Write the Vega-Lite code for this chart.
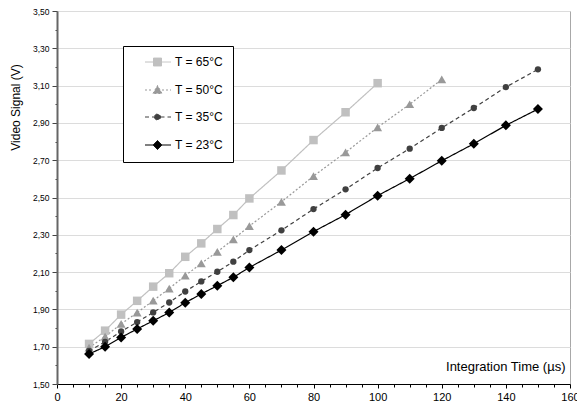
{
  "$schema": "https://vega.github.io/schema/vega-lite/v6.json",
  "width": 513,
  "height": 373,
  "autosize": {"type": "none"},
  "padding": {"left": 57, "top": 11, "right": 7, "bottom": 24},
  "config": {
    "font": "Liberation Sans",
    "view": {"stroke": "#a8a8a8", "strokeWidth": 1},
    "background": "white"
  },
  "data": {
    "values": [
      {"t": 10, "v": 1.715, "s": "T = 65°C"},
      {"t": 15, "v": 1.786, "s": "T = 65°C"},
      {"t": 20, "v": 1.872, "s": "T = 65°C"},
      {"t": 25, "v": 1.946, "s": "T = 65°C"},
      {"t": 30, "v": 2.022, "s": "T = 65°C"},
      {"t": 35, "v": 2.094, "s": "T = 65°C"},
      {"t": 40, "v": 2.182, "s": "T = 65°C"},
      {"t": 45, "v": 2.254, "s": "T = 65°C"},
      {"t": 50, "v": 2.331, "s": "T = 65°C"},
      {"t": 55, "v": 2.406, "s": "T = 65°C"},
      {"t": 60, "v": 2.495, "s": "T = 65°C"},
      {"t": 70, "v": 2.645, "s": "T = 65°C"},
      {"t": 80, "v": 2.808, "s": "T = 65°C"},
      {"t": 90, "v": 2.957, "s": "T = 65°C"},
      {"t": 100, "v": 3.113, "s": "T = 65°C"},
      {"t": 10, "v": 1.695, "s": "T = 50°C"},
      {"t": 15, "v": 1.754, "s": "T = 50°C"},
      {"t": 20, "v": 1.822, "s": "T = 50°C"},
      {"t": 25, "v": 1.883, "s": "T = 50°C"},
      {"t": 30, "v": 1.947, "s": "T = 50°C"},
      {"t": 35, "v": 2.012, "s": "T = 50°C"},
      {"t": 40, "v": 2.081, "s": "T = 50°C"},
      {"t": 45, "v": 2.147, "s": "T = 50°C"},
      {"t": 50, "v": 2.209, "s": "T = 50°C"},
      {"t": 55, "v": 2.276, "s": "T = 50°C"},
      {"t": 60, "v": 2.347, "s": "T = 50°C"},
      {"t": 70, "v": 2.477, "s": "T = 50°C"},
      {"t": 80, "v": 2.615, "s": "T = 50°C"},
      {"t": 90, "v": 2.742, "s": "T = 50°C"},
      {"t": 100, "v": 2.876, "s": "T = 50°C"},
      {"t": 110, "v": 3.0, "s": "T = 50°C"},
      {"t": 120, "v": 3.133, "s": "T = 50°C"},
      {"t": 10, "v": 1.677, "s": "T = 35°C"},
      {"t": 15, "v": 1.726, "s": "T = 35°C"},
      {"t": 20, "v": 1.782, "s": "T = 35°C"},
      {"t": 25, "v": 1.832, "s": "T = 35°C"},
      {"t": 30, "v": 1.884, "s": "T = 35°C"},
      {"t": 35, "v": 1.937, "s": "T = 35°C"},
      {"t": 40, "v": 1.996, "s": "T = 35°C"},
      {"t": 45, "v": 2.05, "s": "T = 35°C"},
      {"t": 50, "v": 2.102, "s": "T = 35°C"},
      {"t": 55, "v": 2.156, "s": "T = 35°C"},
      {"t": 60, "v": 2.218, "s": "T = 35°C"},
      {"t": 70, "v": 2.324, "s": "T = 35°C"},
      {"t": 80, "v": 2.438, "s": "T = 35°C"},
      {"t": 90, "v": 2.544, "s": "T = 35°C"},
      {"t": 100, "v": 2.658, "s": "T = 35°C"},
      {"t": 110, "v": 2.762, "s": "T = 35°C"},
      {"t": 120, "v": 2.873, "s": "T = 35°C"},
      {"t": 130, "v": 2.98, "s": "T = 35°C"},
      {"t": 140, "v": 3.092, "s": "T = 35°C"},
      {"t": 150, "v": 3.187, "s": "T = 35°C"},
      {"t": 10, "v": 1.661, "s": "T = 23°C"},
      {"t": 15, "v": 1.70, "s": "T = 23°C"},
      {"t": 20, "v": 1.75, "s": "T = 23°C"},
      {"t": 25, "v": 1.795, "s": "T = 23°C"},
      {"t": 30, "v": 1.839, "s": "T = 23°C"},
      {"t": 35, "v": 1.883, "s": "T = 23°C"},
      {"t": 40, "v": 1.936, "s": "T = 23°C"},
      {"t": 45, "v": 1.983, "s": "T = 23°C"},
      {"t": 50, "v": 2.027, "s": "T = 23°C"},
      {"t": 55, "v": 2.072, "s": "T = 23°C"},
      {"t": 60, "v": 2.125, "s": "T = 23°C"},
      {"t": 70, "v": 2.218, "s": "T = 23°C"},
      {"t": 80, "v": 2.317, "s": "T = 23°C"},
      {"t": 90, "v": 2.408, "s": "T = 23°C"},
      {"t": 100, "v": 2.51, "s": "T = 23°C"},
      {"t": 110, "v": 2.601, "s": "T = 23°C"},
      {"t": 120, "v": 2.697, "s": "T = 23°C"},
      {"t": 130, "v": 2.788, "s": "T = 23°C"},
      {"t": 140, "v": 2.887, "s": "T = 23°C"},
      {"t": 150, "v": 2.974, "s": "T = 23°C"}
    ]
  },
  "encoding": {
    "x": {
      "field": "t",
      "type": "quantitative",
      "scale": {"domain": [0, 160], "nice": false, "zero": false},
      "axis": {
        "title": "Integration Time (µs)",
        "titleFontSize": 13,
        "titleFontWeight": "normal",
        "titleColor": "#000",
        "titleAlign": "right",
        "titleAnchor": null,
        "titleX": 508,
        "titleY": -14,
        "titleBaseline": "alphabetic",
        "values": [0, 5, 10, 15, 20, 25, 30, 35, 40, 45, 50, 55, 60, 65, 70, 75, 80, 85, 90, 95, 100, 105, 110, 115, 120, 125, 130, 135, 140, 145, 150, 155, 160],
        "labelExpr": "datum.value % 20 === 0 ? format(datum.value, 'd') : ''",
        "labelFontSize": 11,
        "labelColor": "#000",
        "labelPadding": 3,
        "labelFlush": false,
        "labelOverlap": false,
        "domainColor": "#000",
        "domainWidth": 1,
        "tickColor": "#000",
        "tickSize": {"condition": {"test": "datum.value % 20 === 0", "value": 4}, "value": 3},
        "grid": false
      }
    },
    "y": {
      "field": "v",
      "type": "quantitative",
      "scale": {"domain": [1.5, 3.5], "nice": false, "zero": false},
      "axis": {
        "title": "Video Signal (V)",
        "titleFontSize": 12,
        "titleFontWeight": "normal",
        "titleColor": "#000",
        "titleAnchor": null,
        "titleAlign": "center",
        "titleBaseline": "middle",
        "titleX": -42,
        "titleY": 96,
        "values": [1.5, 1.6, 1.7, 1.8, 1.9, 2.0, 2.1, 2.2, 2.3, 2.4, 2.5, 2.6, 2.7, 2.8, 2.9, 3.0, 3.1, 3.2, 3.3, 3.4, 3.5],
        "labelExpr": "round(datum.value * 10) % 2 === 1 ? replace(format(datum.value, '.2f'), '.', ',') : ''",
        "labelFontSize": 8.5,
        "labelColor": "#000",
        "labelPadding": 3,
        "labelFlush": false,
        "labelOverlap": false,
        "domainColor": "#666",
        "domainWidth": 2,
        "tickColor": "#444",
        "tickSize": {"condition": {"test": "round(datum.value * 10) % 2 === 1", "value": 5}, "value": 2},
        "grid": true,
        "gridColor": "#dcdcdc",
        "gridWidth": 1,
        "gridOpacity": {"condition": {"test": "round(datum.value * 10) % 2 === 1", "value": 1}, "value": 0}
      }
    },
    "color": {
      "field": "s",
      "type": "nominal",
      "scale": {
        "domain": ["T = 65°C", "T = 50°C", "T = 35°C", "T = 23°C"],
        "range": ["#c0c0c0", "#999999", "#404040", "#000000"]
      },
      "legend": {
        "title": null,
        "orient": "none",
        "legendX": 66,
        "legendY": 35,
        "direction": "vertical",
        "fillColor": "white",
        "strokeColor": "#000",
        "padding": 10,
        "rowPadding": 15,
        "labelFontSize": 12,
        "labelColor": "#000",
        "labelOffset": 30,
        "labelExpr": "datum.label + '\u00a0\u00a0\u00a0'",
        "symbolSize": 100,
        "symbolStrokeWidth": 1,
        "encode": {
          "symbols": {
            "update": {
              "shape": {"signal": "datum.value === 'T = 65°C' ? 'M1.2,0H2.9M4.5,0H6.4M2.9,-0.8H4.5V0.8H2.9Z' : datum.value === 'T = 50°C' ? 'M1.2,0H2.8M4.6,0H6.4M2.8,0.7L3.7,-0.9L4.6,0.7Z' : datum.value === 'T = 35°C' ? 'M1.2,0H3.1M4.3,0H6.4M3.1,0A0.6,0.6 0 1,0 4.3,0A0.6,0.6 0 1,0 3.1,0Z' : 'M1.2,0H2.8M4.6,0H6.4M2.8,0L3.7,-0.9L4.6,0L3.7,0.9Z'"},
              "strokeWidth": {"value": 1},
              "size": {"value": 100}
            }
          }
        }
      }
    },
    "strokeDash": {
      "field": "s",
      "type": "nominal",
      "scale": {
        "domain": ["T = 65°C", "T = 50°C", "T = 35°C", "T = 23°C"],
        "range": [[1, 0], [2, 2], [4, 3], [1, 0]]
      },
      "legend": {
        "title": null,
        "orient": "none",
        "legendX": 66,
        "legendY": 35,
        "direction": "vertical",
        "fillColor": "white",
        "strokeColor": "#000",
        "padding": 10,
        "rowPadding": 15,
        "labelFontSize": 12,
        "labelColor": "#000",
        "labelOffset": 30,
        "labelExpr": "datum.label + '\u00a0\u00a0\u00a0'",
        "symbolSize": 100,
        "symbolStrokeWidth": 1,
        "encode": {
          "symbols": {
            "update": {
              "shape": {"signal": "datum.value === 'T = 65°C' ? 'M1.2,0H2.9M4.5,0H6.4M2.9,-0.8H4.5V0.8H2.9Z' : datum.value === 'T = 50°C' ? 'M1.2,0H2.8M4.6,0H6.4M2.8,0.7L3.7,-0.9L4.6,0.7Z' : datum.value === 'T = 35°C' ? 'M1.2,0H3.1M4.3,0H6.4M3.1,0A0.6,0.6 0 1,0 4.3,0A0.6,0.6 0 1,0 3.1,0Z' : 'M1.2,0H2.8M4.6,0H6.4M2.8,0L3.7,-0.9L4.6,0L3.7,0.9Z'"},
              "strokeWidth": {"value": 1},
              "size": {"value": 100}
            }
          }
        }
      }
    }
  },
  "layer": [
    {
      "mark": {"type": "line", "strokeWidth": 1.2}
    },
    {
      "transform": [{"filter": "datum.s === 'T = 65°C'"}],
      "mark": {"type": "point", "filled": true, "opacity": 1, "shape": "square", "size": 72}
    },
    {
      "transform": [{"filter": "datum.s === 'T = 50°C'"}],
      "mark": {"type": "point", "filled": true, "opacity": 1, "shape": "triangle-up", "size": 80}
    },
    {
      "transform": [{"filter": "datum.s === 'T = 35°C'"}],
      "mark": {"type": "point", "filled": true, "opacity": 1, "shape": "circle", "size": 40}
    },
    {
      "transform": [{"filter": "datum.s === 'T = 23°C'"}],
      "mark": {"type": "point", "filled": true, "opacity": 1, "shape": "diamond", "size": 100}
    }
  ]
}
